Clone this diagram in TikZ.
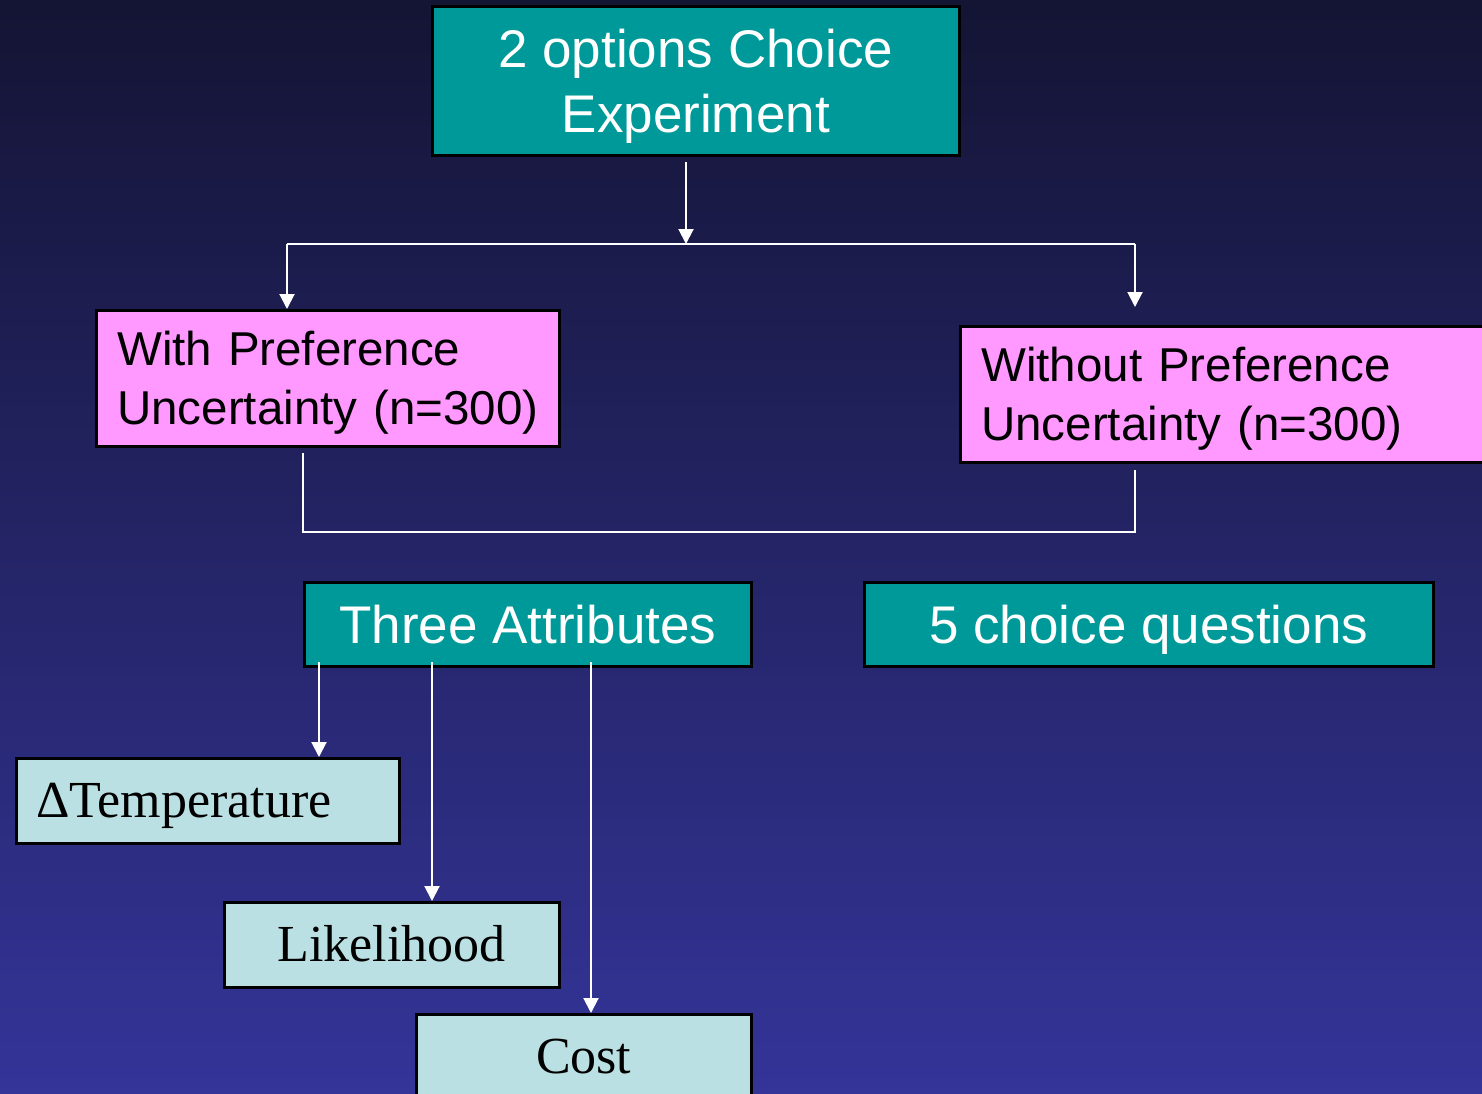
\documentclass[tikz,border=0pt]{standalone}
\usepackage{fontspec}
\setmainfont{Liberation Sans}
\newfontfamily\serifrm{Liberation Serif}
\usetikzlibrary{arrows.meta}
\definecolor{tealbox}{HTML}{009999}
\definecolor{pinkbox}{HTML}{FF99FF}
\definecolor{lightbox}{HTML}{BBE0E3}
\definecolor{bgtop}{HTML}{141434}
\definecolor{bgbot}{HTML}{343499}
\newcommand\sst{\rule[-0.25em]{0pt}{1.216em}}
\newcommand\rst{\rule[-0.238em]{0pt}{1.138em}}
\begin{document}
\begin{tikzpicture}[x=1pt,y=-1pt,
 box/.style={draw=black, line width=2.5pt, rectangle, anchor=north west, inner sep=0pt},
 tealnode/.style={box, fill=tealbox, text=white, font=\fontsize{53}{62}\selectfont, align=center},
 pinknode/.style={box, fill=pinkbox, text=black, font=\fontsize{47.5}{59}\selectfont, align=left, inner xsep=21pt},
 lightnode/.style={box, fill=lightbox, text=black, font=\serifrm\fontsize{52}{60}\selectfont},
 wline/.style={draw=white, line width=2pt},
 warrow/.style={wline, -{Triangle[width=15pt,length=15pt]}}
]
\useasboundingbox (0,0) rectangle (1482,1093);
\clip (0,0) rectangle (1482,1093);
\shade[top color=bgtop, bottom color=bgbot] (0,0) rectangle (1482,1093);

\node[tealnode, minimum width=527pt, minimum height=149pt] (top) at (431,5) {\sst 2 options Choice\\\sst Experiment};
\node[pinknode, text width=421pt, minimum height=136pt] (wp) at (95,309) {\mbox{\sst With Preference}\\\mbox{\sst Uncertainty (n=300)}};
\node[pinknode, text width=540pt, minimum height=136pt] (wop) at (959,325) {\mbox{\sst Without Preference}\\\mbox{\sst Uncertainty (n=300)}};
\node[tealnode, minimum width=447pt, minimum height=84pt] (attr) at (303,581) {\sst Three Attributes};
\node[tealnode, minimum width=569pt, minimum height=84pt] (five) at (863,581) {\sst 5 choice questions};
\node[lightnode, minimum height=85pt, align=left, text width=343pt, inner xsep=20pt] (temp) at (15,757) {\rst ΔTemperature};
\node[lightnode, minimum width=335pt, minimum height=85pt] (like) at (223,901) {\rst Likelihood};
\node[lightnode, minimum width=335pt, minimum height=85pt] (cost) at (415,1013) {\rst Cost};

\coordinate (a0) at (686,162);
\coordinate (jc) at (686,244);
\coordinate (jl) at (287,244);
\coordinate (jr) at (1135,244);
\coordinate (jre) at (1135,307);
\draw[warrow] (a0) -- (jc);
\draw[wline] (jl) -- (jr);
\draw[warrow] (jl) -- (jl |- wp.north);
\draw[warrow] (jr) -- (jre);

\coordinate (b1) at (303,453);
\coordinate (b2) at (303,532);
\coordinate (b3) at (1135,532);
\coordinate (b4) at (1135,470);
\draw[wline] (b1) -- (b2) -- (b3) -- (b4);

\coordinate (c1) at (319,662);
\coordinate (c2) at (432,662);
\coordinate (c3) at (591,662);
\draw[warrow] (c1) -- (c1 |- temp.north);
\draw[warrow] (c2) -- (c2 |- like.north);
\draw[warrow] (c3) -- (c3 |- cost.north);
\end{tikzpicture}
\end{document}
